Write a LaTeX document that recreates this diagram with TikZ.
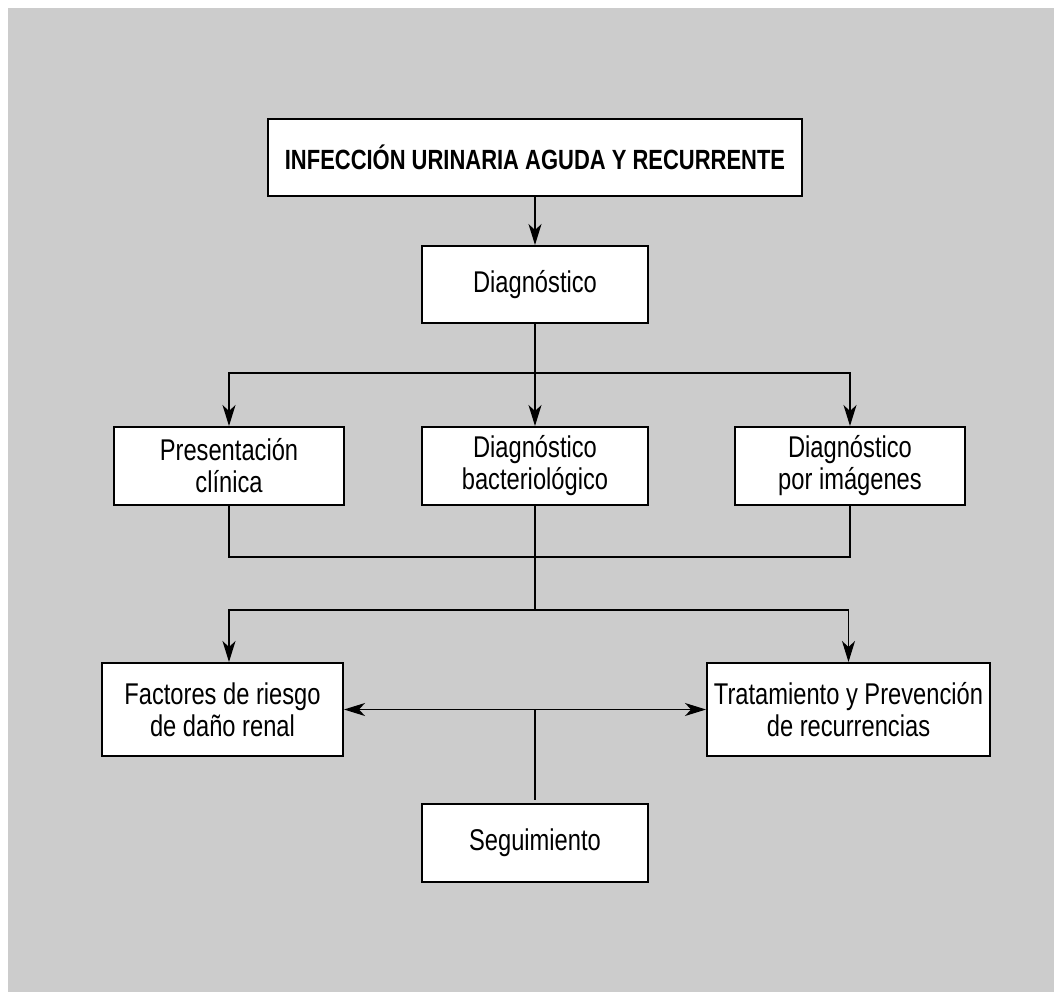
\documentclass[tikz,border=0pt]{standalone}
\usepackage{fontspec}
\setmainfont{Liberation Sans}[FakeStretch=0.79]
\usetikzlibrary{arrows.meta,calc}
\definecolor{bggray}{HTML}{CCCCCC}
\begin{document}
\begin{tikzpicture}[x=1bp,y=-1bp,
  box/.style={draw=black,line width=2bp,fill=white,inner sep=0pt,align=center,
    font=\fontsize{30bp}{32bp}\selectfont},
  conn/.style={line width=1.3bp,draw=black},
  arr/.style={conn,-{Stealth[length=21bp,width=13bp,inset=6bp]}},
  darr/.style={conn,{Stealth[length=21bp,width=13bp,inset=6bp]}-{Stealth[length=21bp,width=13bp,inset=6bp]}}]
\useasboundingbox (0,0) rectangle (1054,992);
\fill[bggray] (8,8) rectangle (1054,992);
\node[box,minimum width=534bp,minimum height=77bp,font=\bfseries\fontsize{27.8bp}{32bp}\selectfont] (title) at (535,157.5) {INFECCIÓN URINARIA AGUDA Y RECURRENTE};
\node[box,minimum width=226bp,minimum height=77bp] (diag) at (535,284.5) {Diagnóstico};
\node[box,minimum width=230bp,minimum height=78bp] (pres) at (229,466) {Presentación\\clínica};
\node[box,minimum width=226bp,minimum height=78bp] (bact) at (535,466) {Diagnóstico\\bacteriológico};
\node[box,minimum width=230bp,minimum height=78bp] (imag) at (850,466) {Diagnóstico\\por imágenes};
\node[box,minimum width=241bp,minimum height=93bp] (fact) at (222.5,709.5) {Factores de riesgo\\de daño renal};
\node[box,minimum width=283bp,minimum height=93bp] (trat) at (848.5,709.5) {Tratamiento y Prevención\\de recurrencias};
\node[box,minimum width=226bp,minimum height=78bp] (seg) at (535,843) {Seguimiento};
\coordinate (b1) at (535,373);
\coordinate (j1) at (535,557);
\coordinate (j2) at (535,610);
\coordinate (segtop) at ($(seg.north)+(0,-3)$);
\draw[arr] (title.south) -- (diag.north);
\draw[conn] (diag.south) -- (b1);
\draw[arr] (b1) -- (bact.north);
\draw[arr] (b1) -| (pres.north);
\draw[arr] (b1) -| (imag.north);
\draw[conn] (pres.south) |- (j1) -| (imag.south);
\draw[conn] (bact.south) -- (j2);
\draw[arr] (j2) -| (pres.south |- fact.north);
\draw[arr] (j2) -| (trat.north);
\draw[darr] (fact.east) -- (trat.west);
\draw[conn] (fact.east -| segtop) -- (segtop);
\end{tikzpicture}
\end{document}
